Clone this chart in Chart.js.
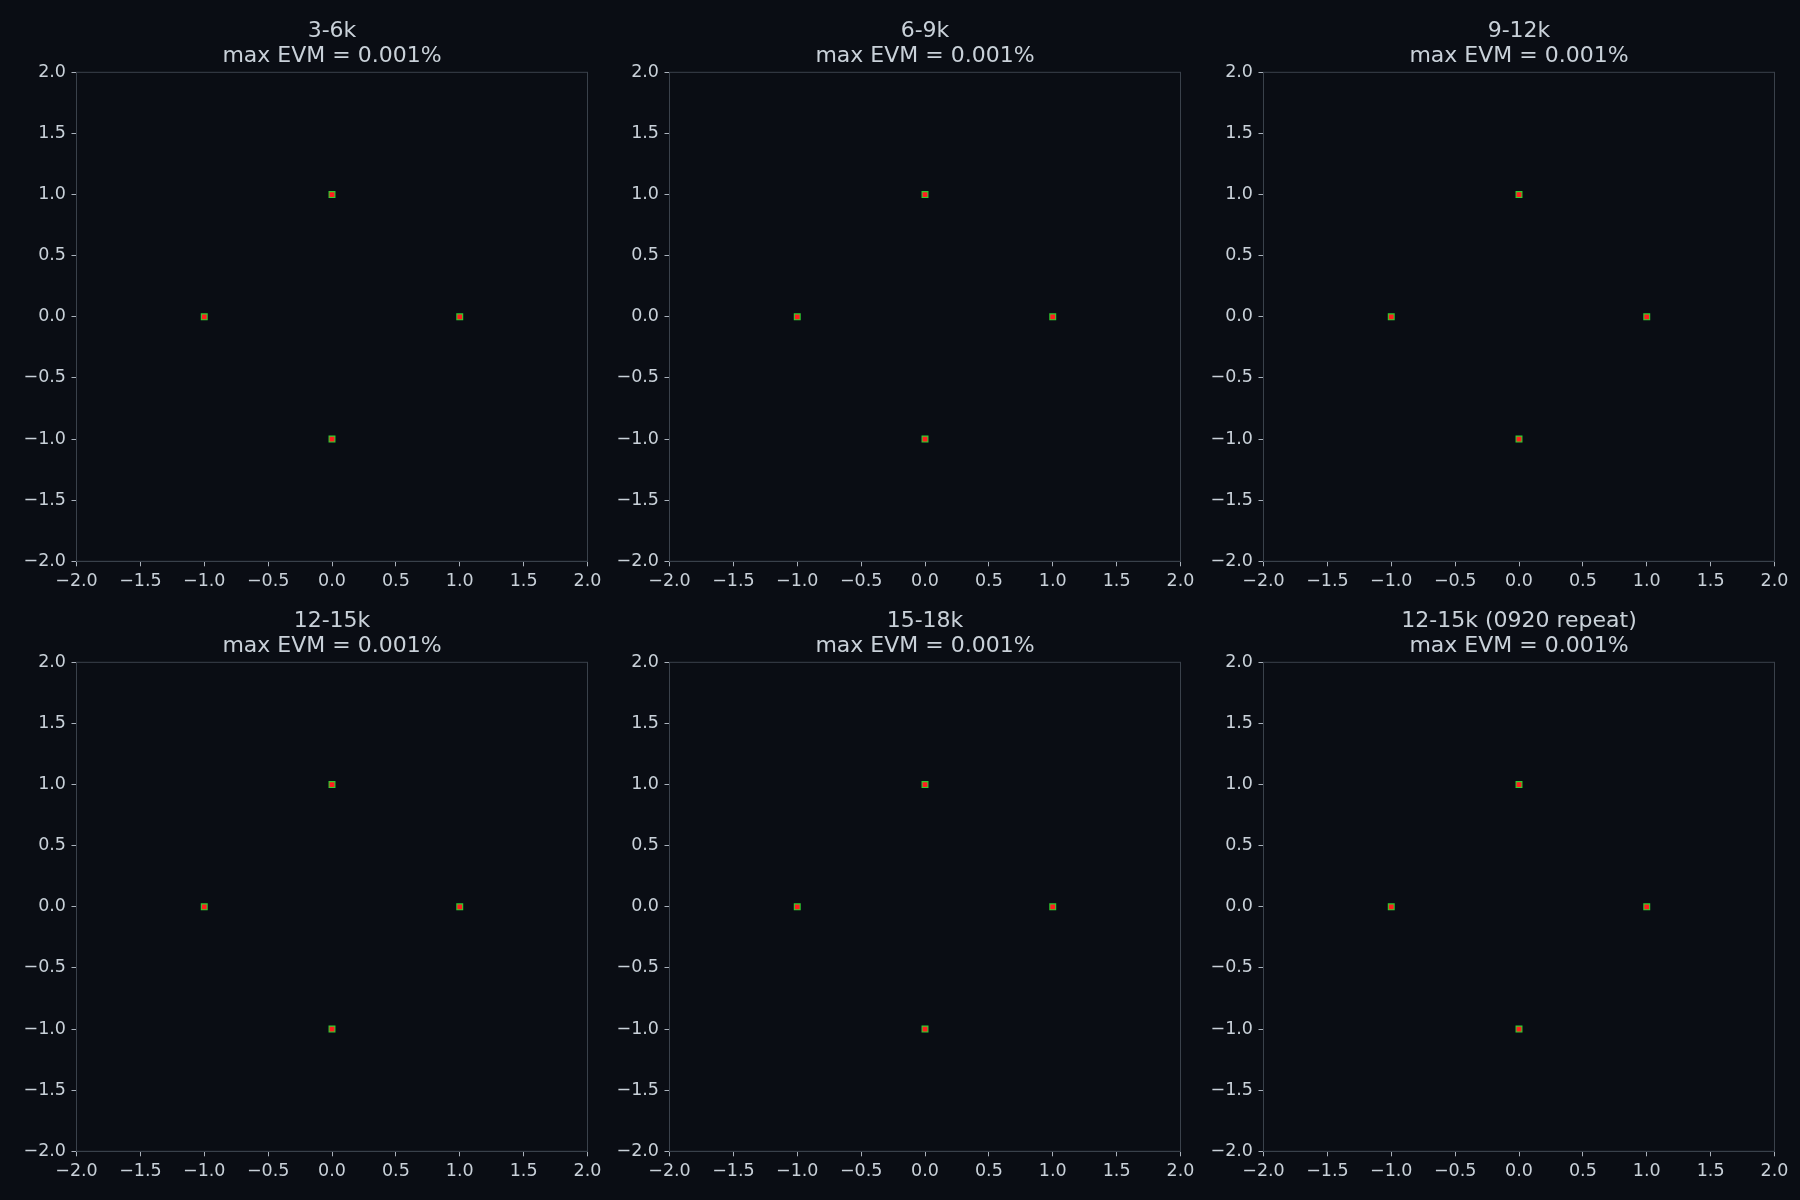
<!DOCTYPE html>
<html>
<head>
<meta charset="utf-8">
<script src="https://cdn.jsdelivr.net/npm/chart.js@4.4.1/dist/chart.umd.min.js"></script>
<style>
  html, body { margin: 0; padding: 0; background: #0a0d14; }
  #fig { position: relative; width: 1800px; height: 1200px; background: #0a0d14; overflow: hidden; }
  .cell { position: absolute; }
</style>
</head>
<body>
<div id="fig"></div>
<script>
// panel titles and the EVM figure printed under each one
const panelTitles = ['3-6k', '6-9k', '9-12k', '12-15k', '15-18k', '12-15k (0920 repeat)'];
const maxEvm = ['0.001', '0.001', '0.001', '0.001', '0.001', '0.001'];

// ideal constellation (I / Q)
const idealI = [1, 0, -1, 0];
const idealQ = [0, 1, 0, -1];

// measured symbols per panel (all sit right on the ideal points)
const rxI = [
  [1, 0, -1, 0],
  [1, 0, -1, 0],
  [1, 0, -1, 0],
  [1, 0, -1, 0],
  [1, 0, -1, 0],
  [1, 0, -1, 0],
];
const rxQ = [
  [0, 1, 0, -1],
  [0, 1, 0, -1],
  [0, 1, 0, -1],
  [0, 1, 0, -1],
  [0, 1, 0, -1],
  [0, 1, 0, -1],
];

const axisTicks = [-2.0, -1.5, -1.0, -0.5, 0.0, 0.5, 1.0, 1.5, 2.0];

const TXT = '#c9d1d9';
const EDGE = '#3a414b';
const colLeft = [76.5, 669.5, 1263.3];
const rowTop = [72.3, 662.3];
const plotW = 511, plotH = 489;
// left and right margin equal so the title sits centred over the plot
const LEFT = 76.5, TOP = 72.3, RIGHT = 76.5, BOTTOM = 44;

Chart.defaults.font.family = 'DejaVu Sans';
Chart.defaults.color = TXT;

const fmt = v => (v < 0 ? '\u2212' : '') + Math.abs(v).toFixed(1);

const frame = {
  id: 'frame',
  afterDraw(chart) {
    const { ctx, chartArea: a } = chart;
    ctx.save();
    ctx.strokeStyle = EDGE;
    ctx.lineWidth = 1;
    ctx.strokeRect(a.left, a.top, a.right - a.left, a.bottom - a.top);
    ctx.restore();
  }
};

function axis(pos) {
  return {
    type: 'linear',
    position: pos,
    min: -2,
    max: 2,
    afterBuildTicks: s => { s.ticks = axisTicks.map(v => ({ value: v })); },
    afterFit: s => {
      if (pos === 'left') s.width = LEFT;
      else s.height = BOTTOM;
    },
    grid: {
      drawOnChartArea: false,
      drawTicks: true,
      tickLength: 5,
      tickColor: '#aab2bc',
      color: EDGE,
    },
    border: { display: true, color: EDGE, width: 1 },
    ticks: {
      autoSkip: false,
      maxRotation: 0,
      padding: pos === 'left' ? 5.5 : 4.5,
      color: TXT,
      font: { size: 17.5 },
      callback: v => fmt(v),
    },
  };
}

// empty right-hand axis, only reserves the right margin
const spacer = {
  type: 'linear',
  position: 'right',
  min: -2,
  max: 2,
  grid: { display: false },
  border: { display: false },
  ticks: { display: false },
  afterFit: s => { s.width = RIGHT; },
};

const fig = document.getElementById('fig');
panelTitles.forEach((title, k) => {
  const c = k % 3, r = Math.floor(k / 3);
  const cell = document.createElement('div');
  cell.className = 'cell';
  cell.style.left = (colLeft[c] - LEFT) + 'px';
  cell.style.top = (rowTop[r] - TOP) + 'px';
  cell.style.width = (LEFT + plotW + RIGHT) + 'px';
  cell.style.height = (TOP + plotH + BOTTOM) + 'px';
  const cv = document.createElement('canvas');
  cell.appendChild(cv);
  fig.appendChild(cell);

  new Chart(cv, {
    type: 'scatter',
    data: {
      datasets: [
        {
          label: 'received',
          data: rxI[k].map((x, i) => ({ x, y: rxQ[k][i] })),
          pointStyle: 'rect',
          pointRadius: 3.4,
          backgroundColor: '#ff1f1f',
          borderWidth: 0,
          order: 0,
        },
        {
          label: 'ideal',
          data: idealI.map((x, i) => ({ x, y: idealQ[i] })),
          pointStyle: 'rect',
          pointRadius: 4.9,
          backgroundColor: '#2fd22f',
          borderWidth: 0,
          order: 1,
        },
      ],
    },
    options: {
      responsive: true,
      maintainAspectRatio: false,
      animation: false,
      layout: { padding: 0 },
      scales: { x: axis('bottom'), y: axis('left'), y2: spacer },
      plugins: {
        legend: { display: false },
        tooltip: { enabled: false },
        title: {
          display: true,
          text: [title, 'max EVM = ' + maxEvm[k] + '%'],
          color: TXT,
          font: { size: 22, weight: 'normal', lineHeight: 24.3 / 22 },
          padding: { top: 19.5, bottom: 4.2 },
        },
      },
    },
    plugins: [frame],
  });
});
</script>
</body>
</html>
